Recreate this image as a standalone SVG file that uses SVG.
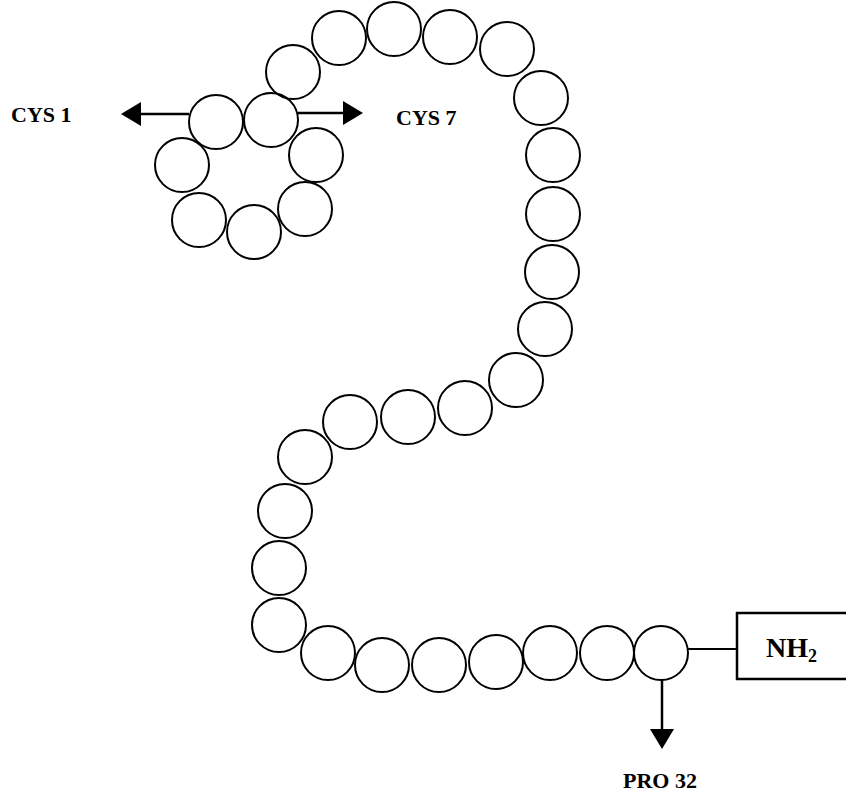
<svg xmlns="http://www.w3.org/2000/svg" width="846" height="798" viewBox="0 0 846 798">
  <style>
    .res { fill: none; stroke: #000; stroke-width: 2; }
    .conn { stroke: #000; stroke-width: 2.5; fill: none; }
    .link { stroke: #000; stroke-width: 2; fill: none; }
    .lbl { font-family: "Liberation Serif", "Times New Roman", serif; font-weight: bold; font-size: 22px; fill: #000; }
    .box { fill: #fff; stroke: #000; stroke-width: 2.5; }
  </style>
  <defs>
    <marker id="head" viewBox="0 0 20 24" refX="0" refY="12" markerWidth="20" markerHeight="24" markerUnits="userSpaceOnUse" orient="auto">
      <path d="M0,0 L20,12 L0,24 Z" fill="#000"/>
    </marker>
  </defs>
  <rect width="846" height="798" fill="#fff"/>

  <!-- peptide chain, residue 1 (Cys) to residue 32 (Pro) -->
  <g id="chain">
    <g id="res1"><circle class="res" cx="216" cy="122" r="27"/></g>
    <g id="res2"><circle class="res" cx="182" cy="165" r="27"/></g>
    <g id="res3"><circle class="res" cx="199" cy="220" r="27"/></g>
    <g id="res4"><circle class="res" cx="254" cy="232" r="27"/></g>
    <g id="res5"><circle class="res" cx="305" cy="209" r="27"/></g>
    <g id="res6"><circle class="res" cx="316" cy="155" r="27"/></g>
    <g id="res7"><circle class="res" cx="271" cy="120" r="27"/></g>
    <g id="res8"><circle class="res" cx="293" cy="72" r="27"/></g>
    <g id="res9"><circle class="res" cx="339" cy="38" r="27"/></g>
    <g id="res10"><circle class="res" cx="394" cy="29" r="27"/></g>
    <g id="res11"><circle class="res" cx="450" cy="37" r="27"/></g>
    <g id="res12"><circle class="res" cx="507" cy="49" r="27"/></g>
    <g id="res13"><circle class="res" cx="541" cy="98" r="27"/></g>
    <g id="res14"><circle class="res" cx="553" cy="155" r="27"/></g>
    <g id="res15"><circle class="res" cx="553" cy="214" r="27"/></g>
    <g id="res16"><circle class="res" cx="552" cy="272" r="27"/></g>
    <g id="res17"><circle class="res" cx="545" cy="329" r="27"/></g>
    <g id="res18"><circle class="res" cx="516" cy="380" r="27"/></g>
    <g id="res19"><circle class="res" cx="465" cy="408" r="27"/></g>
    <g id="res20"><circle class="res" cx="408" cy="417" r="27"/></g>
    <g id="res21"><circle class="res" cx="350" cy="422" r="27"/></g>
    <g id="res22"><circle class="res" cx="305" cy="457" r="27"/></g>
    <g id="res23"><circle class="res" cx="285" cy="511" r="27"/></g>
    <g id="res24"><circle class="res" cx="279" cy="568" r="27"/></g>
    <g id="res25"><circle class="res" cx="279" cy="625" r="27"/></g>
    <g id="res26"><circle class="res" cx="328" cy="653" r="27"/></g>
    <g id="res27"><circle class="res" cx="382" cy="665" r="27"/></g>
    <g id="res28"><circle class="res" cx="439" cy="665" r="27"/></g>
    <g id="res29"><circle class="res" cx="496" cy="662" r="27"/></g>
    <g id="res30"><circle class="res" cx="550" cy="653" r="27"/></g>
    <g id="res31"><circle class="res" cx="607" cy="653" r="27"/></g>
    <g id="res32"><circle class="res" cx="661" cy="653" r="27"/></g>
  </g>

  <!-- amino terminus -->
  <g id="nh2">
    <rect class="box" x="737" y="613" width="130" height="66"/>
    <text class="lbl" x="766" y="657" style="font-size:28px">NH<tspan dy="5" style="font-size:18px">2</tspan></text>
  </g>

  <!-- labels -->
  <g id="label-cys1"><text class="lbl" x="11" y="122">CYS 1</text></g>
  <g id="label-cys7"><text class="lbl" x="396" y="125">CYS 7</text></g>
  <g id="label-pro32"><text class="lbl" x="623" y="788">PRO 32</text></g>

  <!-- connectors -->
  <g id="connectors">
    <line class="conn" x1="189" y1="114" x2="141" y2="114" marker-end="url(#head)"/>
    <line class="conn" x1="298" y1="113" x2="343" y2="113" marker-end="url(#head)"/>
    <line class="conn" x1="662" y1="680" x2="662" y2="729" marker-end="url(#head)"/>
    <line class="link" x1="688" y1="649" x2="737" y2="649"/>
  </g>
</svg>
